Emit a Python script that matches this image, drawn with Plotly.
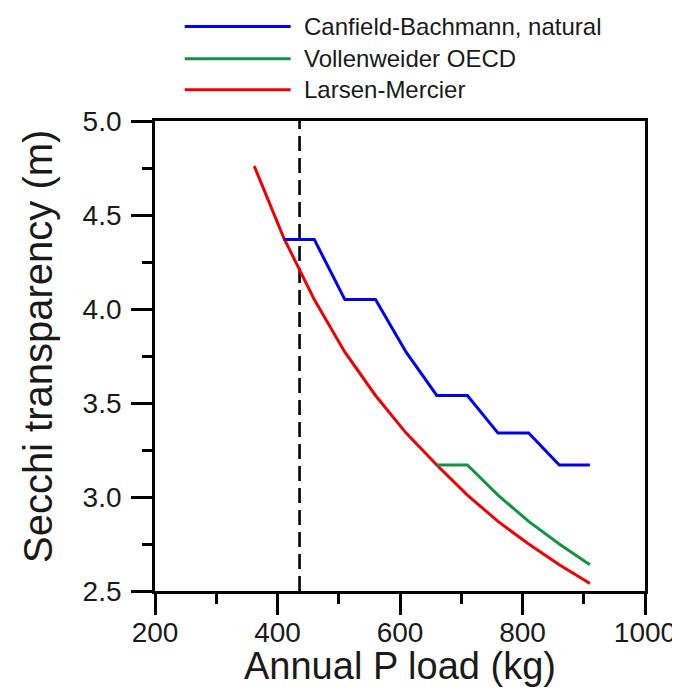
import plotly.graph_objects as go

# Data
load_kg = [362, 410, 460, 510, 560, 610, 660, 710, 760, 810, 860, 910]
larsen_mercier = [4.76, 4.38, 4.05, 3.77, 3.54, 3.34, 3.17, 3.01, 2.87, 2.75, 2.64, 2.54]

canfield_x = [410, 460, 510, 560, 610, 660, 710, 760, 810, 860, 910]
canfield_bachmann = [4.37, 4.37, 4.05, 4.05, 3.77, 3.54, 3.54, 3.34, 3.34, 3.17, 3.17]

vollenweider_x = [660, 710, 760, 810, 860, 910]
vollenweider_oecd = [3.17, 3.17, 3.01, 2.87, 2.75, 2.64]

threshold_load = 436
y_range = [2.5, 5.0]
x_range = [200, 1000]

x_title = "Annual P load (kg)"
y_title = "Secchi transparency (m)"

series = [
    ("Canfield-Bachmann, natural", canfield_x, canfield_bachmann, "#0000F0"),
    ("Vollenweider OECD", vollenweider_x, vollenweider_oecd, "#139444"),
    ("Larsen-Mercier", load_kg, larsen_mercier, "#F00000"),
]

FONT = "Liberation Sans, Arial, Helvetica, sans-serif"
TXT = "#1a1a1a"

fig = go.Figure()

fig.add_trace(go.Scatter(
    x=[threshold_load, threshold_load], y=y_range, mode="lines",
    line=dict(color="black", width=2.6, dash="15px,7px"),
    showlegend=False, hoverinfo="skip"))

# draw red first (bottom), then green, then blue
for name, xs, ys, col in reversed(series):
    fig.add_trace(go.Scatter(x=xs, y=ys, mode="lines", name=name,
                             line=dict(color=col, width=3), showlegend=False))

# manual legend with long line samples
legend_rows = [1.2009, 1.1327, 1.0667]
for (name, xs, ys, col), yy in zip(series, legend_rows):
    fig.add_shape(type="line", xref="paper", yref="paper",
                  x0=0.0606, x1=0.2768, y0=yy, y1=yy,
                  line=dict(color=col, width=3))
    fig.add_annotation(xref="paper", yref="paper", x=0.301, y=yy,
                       text=name, showarrow=False, xanchor="left", yanchor="middle",
                       font=dict(size=24, color=TXT, family=FONT))

# axis titles
fig.add_annotation(xref="paper", yref="paper", x=0.5, y=-0.1605,
                   text=x_title, showarrow=False, xanchor="center", yanchor="middle",
                   font=dict(size=38, color=TXT, family=FONT))
fig.add_annotation(xref="paper", yref="paper", x=-0.2399, y=0.52,
                   text=y_title, showarrow=False, textangle=-90,
                   xanchor="center", yanchor="middle",
                   font=dict(size=40, color=TXT, family=FONT))

axis_common = dict(
    showline=True, linecolor="black", linewidth=2.8, mirror=True,
    ticks="outside", ticklen=21, tickwidth=2.8, tickcolor="black",
    showgrid=False, zeroline=False,
    tickfont=dict(size=28, color=TXT, family=FONT),
)

fig.update_xaxes(range=x_range, dtick=200, tick0=200, ticklabelstandoff=-7,
                 minor=dict(ticks="outside", ticklen=10, tickwidth=2.8, tickcolor="black", dtick=100, showgrid=False),
                 **axis_common)
fig.update_yaxes(range=y_range, dtick=0.5, tick0=2.5, tickformat=".1f", ticklabelstandoff=4,
                 minor=dict(ticks="outside", ticklen=10, tickwidth=2.8, tickcolor="black", dtick=0.25, showgrid=False),
                 **axis_common)

fig.update_layout(
    width=680, height=690,
    margin=dict(l=147, r=37, t=113, b=107),
    plot_bgcolor="white", paper_bgcolor="white",
    showlegend=False,
    font=dict(family=FONT),
)

fig.write_html("out.html")
